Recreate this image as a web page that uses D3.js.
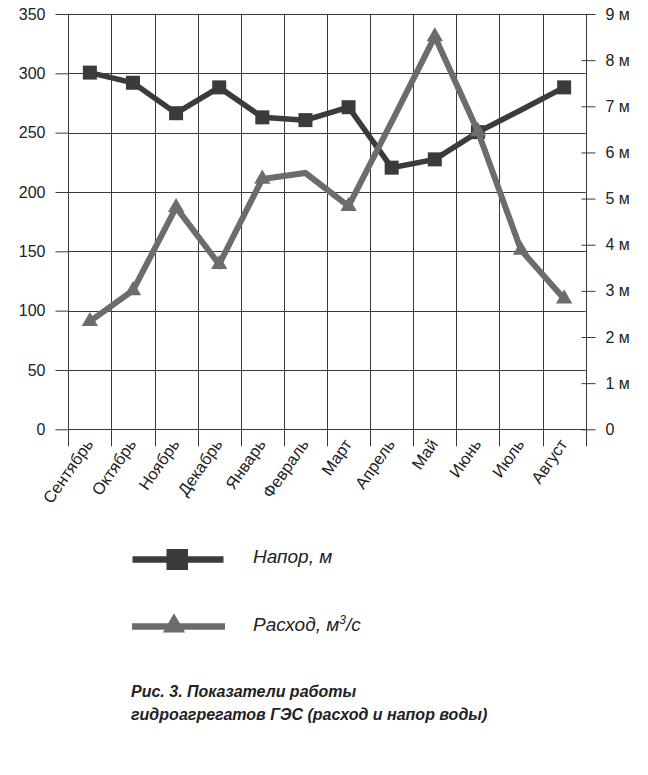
<!DOCTYPE html>
<html>
<head>
<meta charset="utf-8">
<script src="https://cdn.jsdelivr.net/npm/d3@7"></script>
<style>
  html, body { margin: 0; padding: 0; background: #fff; }
  svg { display: block; font-family: "Liberation Sans", Arial, Helvetica, sans-serif; }
</style>
</head>
<body>
<svg id="chart" width="648" height="775"></svg>
<script>
// Months of the hydrological year
const months = ["Сентябрь", "Октябрь", "Ноябрь", "Декабрь", "Январь", "Февраль",
                "Март", "Апрель", "Май", "Июнь", "Июль", "Август"];

// Head, m (right axis)
const napor = [7.73, 7.51, 6.85, 7.41, 6.76, 6.70, 6.98, 5.67, 5.85, 6.44, 6.92, 7.41];
// Flow, m³/s (left axis)
const rashod = [91, 117, 187, 139, 211, 216, 188, 259, 331, 251, 151, 110];

// Which points carry a marker
const naporMarked  = [true, true, true, true, true, true, true, true, true, true, false, true];
const rashodMarked = [true, true, true, true, true, false, true, false, true, true, true, true];

// Axis ticks
const leftTicks = [0, 50, 100, 150, 200, 250, 300, 350];
const rightTicks = [0, 1, 2, 3, 4, 5, 6, 7, 8, 9];

const legendItems = ["Напор, м", "Расход, м"];
const captionLines = ["Рис. 3. Показатели работы", "гидроагрегатов ГЭС (расход и напор воды)"];

(function () {
  const svg = d3.select("#chart");
  const plotL = 68.3, plotR = 585.7, plotT = 14, plotB = 429.3;
  const gridColor = "#3a3a3a";
  const darkColor = "#3b3b3b";
  const greyColor = "#6c6c6e";

  const x = d3.scaleBand().domain(months).range([plotL, plotR]).padding(0);
  const yL = d3.scaleLinear().domain([0, 350]).range([plotB, plotT]);
  const yR = d3.scaleLinear().domain([0, 9]).range([plotB, plotT]);
  const cx = d => x(d) + x.bandwidth() / 2;

  // Left axis ticks and labels
  const gAxisL = svg.append("g")
    .attr("transform", `translate(${Math.round(plotL) + 0.5},0)`)
    .call(d3.axisLeft(yL).tickValues(leftTicks).tickSize(13).tickPadding(10));
  gAxisL.select(".domain").remove();
  gAxisL.selectAll("line").attr("stroke", gridColor);
  gAxisL.selectAll("text").attr("font-size", 16).attr("fill", "#222");

  // Horizontal grid lines
  svg.append("g").selectAll("line").data(leftTicks).join("line")
    .attr("x1", plotL).attr("x2", plotR)
    .attr("y1", d => Math.round(yL(d)) + 0.5).attr("y2", d => Math.round(yL(d)) + 0.5)
    .attr("stroke", gridColor).attr("stroke-width", 1);

  // Vertical grid lines on band boundaries, running below the zero line
  const bounds = months.map(m => x(m)).concat([plotR]);
  svg.append("g").selectAll("line").data(bounds).join("line")
    .attr("x1", d => Math.round(d) + 0.5).attr("x2", d => Math.round(d) + 0.5)
    .attr("y1", plotT).attr("y2", plotB + 17)
    .attr("stroke", gridColor).attr("stroke-width", 1);

  // Right axis (m)
  const gAxisR = svg.append("g")
    .attr("transform", `translate(${Math.round(plotR) + 0.5},0)`)
    .call(d3.axisRight(yR).tickValues(rightTicks).tickSize(9).tickPadding(10)
      .tickFormat(d => d === 0 ? "0" : d + " м"));
  gAxisR.select(".domain").remove();
  gAxisR.selectAll("line").attr("x1", -5).attr("stroke", gridColor);
  gAxisR.selectAll("text").attr("font-size", 16).attr("fill", "#222");

  // Month labels
  svg.append("g").selectAll("text").data(months).join("text")
    .attr("transform", d => `translate(${cx(d) + 4},${plotB + 15}) rotate(-55)`)
    .attr("text-anchor", "end")
    .attr("font-size", 16.5)
    .attr("fill", "#222")
    .text(d => d);

  // Head series (squares)
  svg.append("path")
    .datum(napor)
    .attr("fill", "none").attr("stroke", darkColor).attr("stroke-width", 5.5)
    .attr("d", d3.line().x((d, i) => cx(months[i])).y(d => yR(d)));
  svg.append("g").selectAll("rect")
    .data(napor.map((v, i) => ({ m: months[i], v, on: naporMarked[i] })).filter(d => d.on))
    .join("rect")
    .attr("x", d => cx(d.m) - 7).attr("y", d => yR(d.v) - 7)
    .attr("width", 14).attr("height", 14)
    .attr("fill", darkColor);

  // Flow series (triangles)
  svg.append("path")
    .datum(rashod)
    .attr("fill", "none").attr("stroke", greyColor).attr("stroke-width", 6)
    .attr("d", d3.line().x((d, i) => cx(months[i])).y(d => yL(d)));
  svg.append("g").selectAll("path")
    .data(rashod.map((v, i) => ({ m: months[i], v, on: rashodMarked[i] })).filter(d => d.on))
    .join("path")
    .attr("transform", d => `translate(${cx(d.m)},${yL(d.v)})`)
    .attr("d", d3.symbol(d3.symbolTriangle, 115))
    .attr("fill", greyColor);

  // Legend
  const lg = svg.append("g");
  lg.append("line").attr("x1", 132.5).attr("x2", 223.5).attr("y1", 559.5).attr("y2", 559.5)
    .attr("stroke", darkColor).attr("stroke-width", 6.5);
  lg.append("rect").attr("x", 166.5).attr("y", 549).attr("width", 21.5).attr("height", 21)
    .attr("fill", darkColor);
  lg.append("text").attr("x", 253).attr("y", 563).attr("font-size", 19).attr("font-style", "italic")
    .attr("fill", "#222").text(legendItems[0]);

  lg.append("line").attr("x1", 132).attr("x2", 225).attr("y1", 626.5).attr("y2", 626.5)
    .attr("stroke", greyColor).attr("stroke-width", 6.5);
  lg.append("path").attr("transform", "translate(174,626)")
    .attr("d", d3.symbol(d3.symbolTriangle, 215)).attr("fill", greyColor);
  const t2 = lg.append("text").attr("x", 253).attr("y", 631).attr("font-size", 19)
    .attr("font-style", "italic").attr("fill", "#222");
  t2.append("tspan").text(legendItems[1]);
  t2.append("tspan").attr("dy", -7).attr("font-size", 12).text("3");
  t2.append("tspan").attr("dy", 7).text("/с");

  // Caption
  svg.append("g").selectAll("text").data(captionLines).join("text")
    .attr("x", 131).attr("y", (d, i) => 697 + i * 23)
    .attr("font-size", 16).attr("font-weight", "bold").attr("font-style", "italic")
    .attr("fill", "#222")
    .text(d => d);
})();
</script>
</body>
</html>
